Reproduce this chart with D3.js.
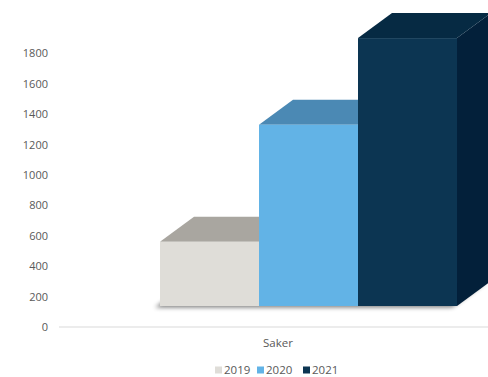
<!DOCTYPE html>
<html>
<head>
<meta charset="utf-8">
<script src="https://cdn.jsdelivr.net/npm/d3@7/dist/d3.min.js"></script>
<style>
  html, body { margin: 0; padding: 0; background: #fff; }
  svg { display: block; }
  text { font-family: "Open Sans", "Liberation Sans", sans-serif; fill: #595959; }
</style>
</head>
<body>
<svg id="chart" width="488" height="377"></svg>
<script>
const categories = ["Saker"];
const seriesNames = ["2019", "2020", "2021"];
const values2019 = [560];
const values2020 = [1330];
const values2021 = [1900];
const tickValues = [0, 200, 400, 600, 800, 1000, 1200, 1400, 1600, 1800];

const seriesValues = [values2019, values2020, values2021];
const colors = {
  "2019": { front: "#dfddd8", top: "#a9a6a0", side: "#b9b6b0" },
  "2020": { front: "#62b3e6", top: "#4b89b4", side: "#3f7aa3" },
  "2021": { front: "#0c3552", top: "#062a43", side: "#03203a" }
};

const svg = d3.select("#chart");
const W = 488, H = 377;

const y = d3.scaleLinear().domain([0, 1800]).range([327, 53.3]);
const x = d3.scaleBand().domain(categories).range([59, 497]);
const depthX = 34, depthY = -25;
const floorLift = 21;

const defs = svg.append("defs");
const f = defs.append("filter").attr("id", "shadow").attr("x", "-20%").attr("y", "-50%").attr("width", "140%").attr("height", "200%");
f.append("feGaussianBlur").attr("stdDeviation", 2.2);
const clip = defs.append("clipPath").attr("id", "clip");
clip.append("rect").attr("x", 0).attr("y", 0).attr("width", W).attr("height", H);

const yAxis = d3.axisLeft(y).tickValues(tickValues).tickSize(0).tickPadding(0).tickFormat(d3.format("d"));
const ga = svg.append("g").attr("transform", "translate(48,0)").call(yAxis);
ga.select(".domain").remove();
ga.selectAll("text").attr("font-size", "11px").attr("font-family", "'Open Sans', sans-serif").attr("fill", "#595959");

svg.append("line").attr("x1", 59).attr("x2", W).attr("y1", y(0)).attr("y2", y(0))
  .attr("stroke", "#d9d9d9").attr("stroke-width", 1);

const plot = svg.append("g").attr("clip-path", "url(#clip)");

categories.forEach((cat, ci) => {
  const x0 = x(cat), bw = x.bandwidth();
  const xs = d3.scaleBand().domain(seriesNames).range([x0 + bw * 0.2306, x0 + bw * 0.9087]).padding(0);
  const bottom = y(0) - floorLift;
  const left = xs(seriesNames[0]);
  const right = xs(seriesNames[seriesNames.length - 1]) + xs.bandwidth();

  const fp = [[left, bottom], [right, bottom], [right + depthX, bottom + depthY], [left + depthX, bottom + depthY]];
  plot.append("polygon")
    .attr("points", fp.map(p => [p[0] - 5, p[1] + 1.5].join(",")).join(" "))
    .attr("fill", "#000").attr("opacity", 0.5).attr("filter", "url(#shadow)");

  seriesNames.forEach((s, si) => {
    const v = seriesValues[si][ci];
    const bx = xs(s), w = xs.bandwidth();
    const top = y(v);
    const c = colors[s];
    const g = plot.append("g");
    g.append("polygon")
      .attr("points", [[bx + w, top], [bx + w + depthX, top + depthY], [bx + w + depthX, bottom + depthY], [bx + w, bottom]].map(p => p.join(",")).join(" "))
      .attr("fill", c.side);
    g.append("polygon")
      .attr("points", [[bx, top], [bx + w, top], [bx + w + depthX, top + depthY], [bx + depthX, top + depthY]].map(p => p.join(",")).join(" "))
      .attr("fill", c.top);
    g.append("rect").attr("x", bx).attr("y", top).attr("width", w).attr("height", bottom - top)
      .attr("fill", c.front);
  });

  svg.append("text").attr("x", x0 + bw / 2).attr("y", 347).attr("text-anchor", "middle")
    .attr("font-size", "11.5px").text(cat);
});

const legendX = [215, 257, 303];
const lg = svg.append("g");
seriesNames.forEach((s, i) => {
  lg.append("rect").attr("x", legendX[i]).attr("y", 366.5).attr("width", 7).attr("height", 7).attr("fill", colors[s].front);
  lg.append("text").attr("x", legendX[i] + 9).attr("y", 374).attr("font-size", "11.5px").text(s);
});
</script>
</body>
</html>
